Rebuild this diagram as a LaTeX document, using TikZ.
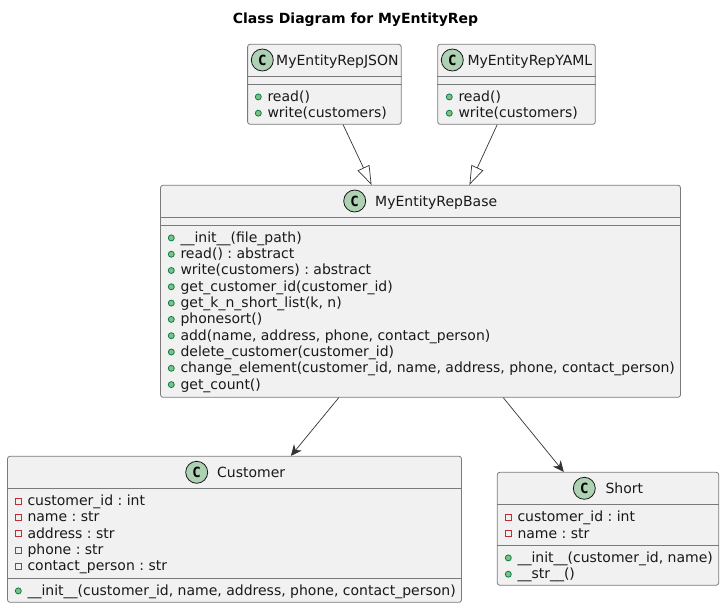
\documentclass[tikz,border=0pt]{standalone}
\usepackage{fontspec}
\setmainfont{DejaVu Sans}
\newfontfamily\markfont{DejaVu Sans Mono}
\usetikzlibrary{arrows.meta,calc}
\frenchspacing
\definecolor{boxline}{HTML}{7A7A7A}
\definecolor{boxfill}{HTML}{F1F1F1}
\definecolor{arrowline}{HTML}{333333}
\definecolor{markfill}{HTML}{ADD1B2}
\definecolor{pubfill}{HTML}{84BE84}
\definecolor{publine}{HTML}{038048}
\definecolor{privline}{HTML}{C82930}
\tikzset{
  classbox/.style 2 args={draw=boxline,fill=boxfill,line width=.8pt,rounded corners=2.5pt,
    inner sep=0pt,minimum width=#1,minimum height=#2},
  sepline/.style={draw=boxline,line width=.8pt},
  classmark/.style={circle,draw=black!90,fill=markfill,line width=.8pt,inner sep=0pt,
    minimum size=22pt,font=\markfont\bfseries\fontsize{14}{14}\selectfont},
  classname/.style={anchor=base west,inner sep=0pt,font=\fontsize{14}{16}\selectfont,text=black!90},
  membertext/.style={anchor=base west,inner sep=0pt,font=\fontsize{14}{16}\selectfont,text=black!90},
  pubicon/.style={circle,draw=publine,fill=pubfill,line width=.8pt,inner sep=0pt,minimum size=6pt},
  privicon/.style={rectangle,draw=privline,fill=boxfill,line width=.8pt,inner sep=0pt,minimum size=6pt},
  inherits/.style={draw=arrowline,line width=.7pt,-{Triangle[open,fill=white,length=19pt,width=13pt]}},
  uses/.style={draw=arrowline,line width=.7pt,-{Stealth[length=11pt,width=10pt,inset=3.5pt]}}
}
\begin{document}
\begin{tikzpicture}[x=1pt,y=-1pt]
  \useasboundingbox (0,0) rectangle (724,608);

  % titlu
  \node[anchor=base,inner sep=0pt,font=\bfseries\fontsize{14}{16}\selectfont] (title) at (355.5,23) {Class Diagram for MyEntityRep};

  % clase
  \node[classbox={153.6pt}{80pt}] (json) at (324.4,84.3) {};
  \node[classbox={157.6pt}{80pt}] (yaml) at (516.5,84.3) {};
  \node[classbox={520pt}{212pt}] (base) at (420.5,291.3) {};
  \node[classbox={454pt}{146pt}] (customer) at (234.5,529.3) {};
  \node[classbox={221.4pt}{113pt}] (short) at (608,528.8) {};

  % separatoare
  \foreach \cls/\y in {json/76.3,json/84.3,yaml/76.3,yaml/84.3,base/217.3,base/225.3,
      customer/488.3,customer/578.3,short/504.3,short/545.3}
    \draw[sepline] (\cls.west |- 0,\y) -- (\cls.east |- 0,\y);

  % antete
  \foreach \cls/\mx/\my/\tx/\txt in {json/262.3/60/276/MyEntityRepJSON,yaml/452.3/60/467.3/MyEntityRepYAML,
      base/354.7/201/375/MyEntityRepBase,customer/196.7/472.3/217/Customer,short/584.3/488.3/605.3/Short} {
    \node[classmark] (\cls mark) at (\mx,\my) {C};
    \node[classname] (\cls name) at (\tx,\my+5) {\txt};
  }

  % metode publice
  \foreach [count=\i] \x/\y/\txt in {
      267.3/101.3/{read()},267.3/117.6/{write(customers)},
      458.3/101.3/{read()},458.3/117.6/{write(customers)},
      180.3/242.3/{\_\_init\_\_(file\_path)},
      180.3/258.6/{read() : abstract},
      180.3/274.9/{write(customers) : abstract},
      180.3/291.2/{get\_customer\_id(customer\_id)},
      180.3/307.5/{get\_k\_n\_short\_list(k, n)},
      180.3/323.8/{phonesort()},
      180.3/340.1/{add(name, address, phone, contact\_person)},
      180.3/356.4/{delete\_customer(customer\_id)},
      180.3/372.7/{change\_element(customer\_id, name, address, phone, contact\_person)},
      180.3/389/{get\_count()},
      27.3/595.3/{\_\_init\_\_(customer\_id, name, address, phone, contact\_person)},
      517.3/562.3/{\_\_init\_\_(customer\_id, name)},
      517.3/578.6/{\_\_str\_\_()}} {
    \node[membertext] (pub\i) at (\x,\y) {\txt};
    \node[pubicon] (pubdot\i) at ([shift={(-9,-4.4)}]pub\i.base west) {};
  }

  % atribute private
  \foreach [count=\i] \x/\y/\txt in {
      27.3/505.6/{customer\_id : int},
      27.3/521.9/{name : str},
      27.3/538.2/{address : str},
      27.3/554.5/{phone : str},
      27.3/570.8/{contact\_person : str},
      517.3/521.9/{customer\_id : int},
      517.3/538.2/{name : str}} {
    \node[membertext] (priv\i) at (\x,\y) {\txt};
    \node[privicon] (privdot\i) at ([shift={(-9,-4.6)}]priv\i.base west) {};
  }

  % relatii
  \draw[inherits] ($(json.south west)!.621!(json.south east)$) -- ($(base.north west)!.406!(base.north east)$);
  \draw[inherits] ($(yaml.south west)!.378!(yaml.south east)$) -- ($(base.north west)!.594!(base.north east)$);
  \draw[uses] ($(base.south west)!.343!(base.south east)$) -- ($(customer.north west)!.624!(customer.north east)$);
  \draw[uses] ($(base.south west)!.659!(base.south east)$) -- ($(short.north west)!.301!(short.north east)$);
\end{tikzpicture}
\end{document}
